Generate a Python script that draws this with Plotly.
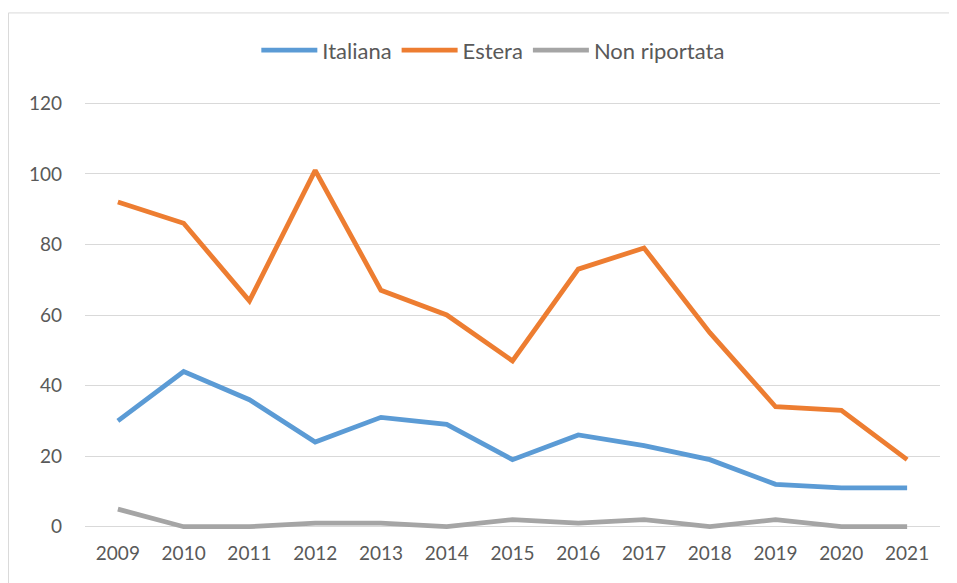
import plotly.graph_objects as go

# -------------------------------------------------
# DATA
# -------------------------------------------------

years = ["2009", "2010", "2011", "2012", "2013", "2014", "2015",
         "2016", "2017", "2018", "2019", "2020", "2021"]

italiana = [30, 44, 36, 24, 31, 29, 19, 26, 23, 19, 12, 11, 11]
estera = [92, 86, 64, 101, 67, 60, 47, 73, 79, 55, 34, 33, 19]
non_riportata = [5, 0, 0, 1, 1, 0, 2, 1, 2, 0, 2, 0, 0]

y_ticks = [0, 20, 40, 60, 80, 100, 120]

# -------------------------------------------------
# LINE CHART
# -------------------------------------------------

series = [
    ("Italiana", italiana, "#5B9BD5"),
    ("Estera", estera, "#ED7D31"),
    ("Non riportata", non_riportata, "#A5A5A5"),
]

fig = go.Figure()

for name, values, color in series:
    fig.add_trace(go.Scatter(
        x=years,
        y=values,
        name=name,
        mode="lines",
        line=dict(color=color, width=4.8, shape="linear")
    ))

fig.update_layout(
    width=957,
    height=583,
    margin=dict(l=77, r=25, t=90, b=59, autoexpand=False),
    paper_bgcolor="white",
    plot_bgcolor="white",
    font=dict(family="Lato, Open Sans, sans-serif", size=19, color="#595959"),
    showlegend=True,
    legend=dict(
        orientation="h",
        x=0.477,
        xanchor="center",
        y=1.11,
        yanchor="middle",
        font=dict(size=22, color="#595959"),
        itemwidth=56,
        tracegroupgap=0
    ),
    xaxis=dict(
        type="category",
        range=[-0.5, 12.5],
        showgrid=False,
        showline=False,
        ticks="",
        ticklabelstandoff=8,
        tickfont=dict(size=19, color="#595959")
    ),
    yaxis=dict(
        range=[-1.5, 121.5],
        tickvals=y_ticks,
        showgrid=True,
        gridcolor="#D9D9D9",
        gridwidth=1,
        zeroline=False,
        showline=False,
        ticks="",
        ticklabelstandoff=22,
        tickfont=dict(size=19, color="#595959")
    ),
    shapes=[
        dict(
            type="rect",
            xref="paper",
            yref="paper",
            x0=-0.0895,
            x1=1.1,
            y0=-0.2,
            y1=1.196,
            line=dict(color="#D9D9D9", width=1),
            fillcolor="rgba(0,0,0,0)",
            layer="below"
        )
    ]
)

fig.write_html("out.html")
